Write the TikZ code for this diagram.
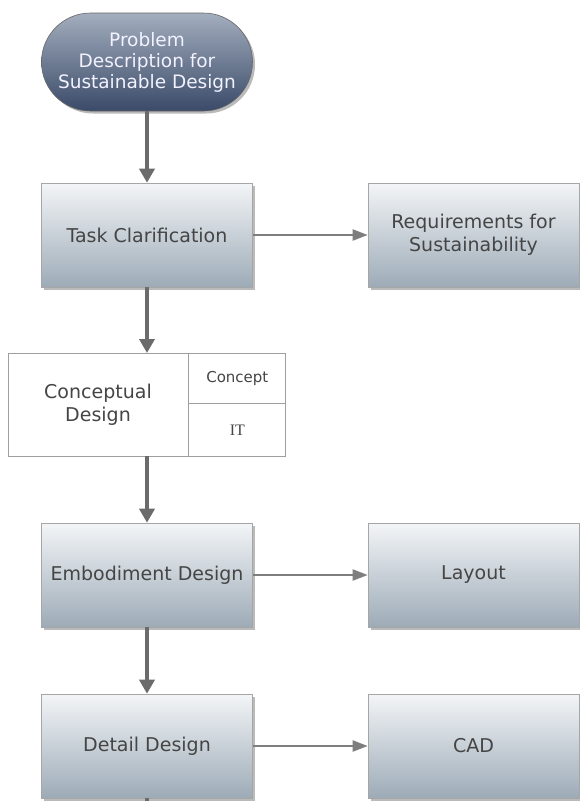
\documentclass[tikz,border=0pt]{standalone}
\usepackage{fontspec}
\setmainfont{DejaVu Sans}
\newfontfamily\itfont{Liberation Serif}
\usetikzlibrary{arrows.meta,shadows,positioning,shapes.misc}
\definecolor{boxtop}{HTML}{F3F5F7}
\definecolor{boxbot}{HTML}{9DABB7}
\definecolor{termtop}{HTML}{A3AEBE}
\definecolor{termbot}{HTML}{3A4A68}
\definecolor{txt}{HTML}{454545}
\definecolor{arr}{HTML}{6B6B6B}
\definecolor{harr}{HTML}{7E7E7E}
\begin{document}
\begin{tikzpicture}[x=1pt,y=-1pt,
  every node/.style={font=\fontsize{19}{23}\selectfont, text=txt, align=center},
  procbox/.style={rectangle, draw=gray!70, line width=0.6pt,
    top color=boxtop, bottom color=boxbot,
    minimum width=211pt, minimum height=104pt, inner sep=2pt,
    drop shadow={shadow xshift=2.5pt, shadow yshift=-2.5pt, fill=black!45, opacity=0.6}},
  termbox/.style={rounded rectangle, draw=gray!80!black, line width=0.6pt,
    top color=termtop, bottom color=termbot, text=white!95!blue,
    minimum width=213pt, minimum height=98pt, inner sep=1pt,
    font=\fontsize{18.5}{21}\selectfont,
    drop shadow={shadow xshift=2.5pt, shadow yshift=-2.5pt, fill=black!45, opacity=0.6}},
  varrow/.style={draw=arr, line width=4pt, -{Triangle[width=15pt,length=14pt]}},
  harrow/.style={draw=harr, line width=2pt, -{Triangle[width=11pt,length=15pt]}}
]
\useasboundingbox (0,0) rectangle (580,801);
\fill[white] (0,0) rectangle (580,801);

% terminal
\node[termbox] (start) at (147,62) {Problem\\Description for\\Sustainable Design};

% process boxes
\node[procbox] (task) at (147,235) {Task Clarification};
\node[procbox] (req) at (473.5,235) {Requirements for\\Sustainability};
\node[procbox] (emb) at (147,575) {Embodiment Design};
\node[procbox] (lay) at (473.5,575) {Layout};
\node[procbox] (det) at (147,746) {Detail Design};
\node[procbox] (cad) at (473.5,746) {CAD};

% conceptual design composite box
\node[draw=gray!75, line width=0.8pt, fill=white, minimum width=180pt, minimum height=103pt, inner sep=0pt] (concept) at (98,404.5) {Conceptual\\Design};
\node[draw=gray!75, line width=0.8pt, fill=white, minimum width=97pt, minimum height=50pt, inner sep=0pt, anchor=north west, font=\fontsize{15}{17}\selectfont] (cpt) at (concept.north east) {Concept};
\node[draw=gray!75, line width=0.8pt, fill=white, minimum width=97pt, minimum height=53pt, inner sep=0pt, anchor=north west, font=\itfont\fontsize{16}{17}\selectfont] (it) at (cpt.south west) {IT};
\coordinate (cdtop) at (147,353);
\coordinate (cdbot) at (147,456);
\coordinate (stub) at (147,801);

% arrows
\draw[varrow] (start.south) -- (task.north);
\draw[varrow] (task.south) -- (cdtop);
\draw[varrow] (cdbot) -- (emb.north);
\draw[varrow] (emb.south) -- (det.north);
\draw[draw=arr, line width=4pt] (det.south) -- (stub);
\draw[harrow] (task.east) -- (req.west);
\draw[harrow] (emb.east) -- (lay.west);
\draw[harrow] (det.east) -- (cad.west);
\end{tikzpicture}
\end{document}
